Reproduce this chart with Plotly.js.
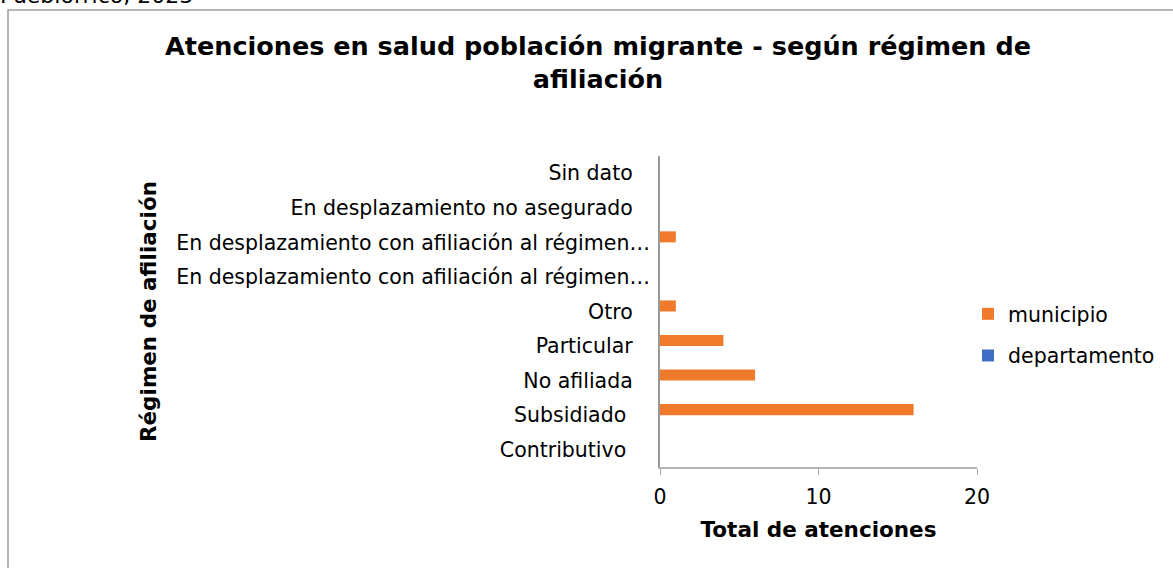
<!DOCTYPE html>
<html>
<head>
<meta charset="utf-8">
<script src="https://cdn.plot.ly/plotly-3.0.1.min.js"></script>
<style>
html,body{margin:0;padding:0;background:#fff;}
#chart{width:1173px;height:568px;}
</style>
</head>
<body>
<div id="chart"></div>
<script>
// Categories from bottom to top (full names)
const categories = [
  "Contributivo",
  "Subsidiado",
  "No afiliada",
  "Particular",
  "Otro",
  "En desplazamiento con afiliación al régimen contributivo",
  "En desplazamiento con afiliación al régimen subsidiado",
  "En desplazamiento no asegurado",
  "Sin dato"
];
// Tick labels as shown in the chart
const tickLabels = [
  "Contributivo\u00a0\u00a0\u00a0\u2009",
  "Subsidiado\u00a0\u00a0\u00a0\u2009",
  "No afiliada\u00a0\u00a0\u2009",
  "Particular\u00a0\u00a0\u2009",
  "Otro\u00a0\u00a0\u2009",
  "En desplazamiento con afiliación al régimen…",
  "En desplazamiento con afiliación al régimen…",
  "En desplazamiento no asegurado\u00a0\u00a0\u2009",
  "Sin dato\u00a0\u00a0\u2009"
];
const municipio = [0, 16, 6, 4, 1, 0, 1, 0, 0];
const departamento = [0, 0, 0, 0, 0, 0, 0, 0, 0];
const xTicks = [0, 10, 20];

const FONT = "DejaVu Sans, Verdana, sans-serif";

const traces = [
  {
    type: "bar", orientation: "h", name: "departamento",
    y: categories, x: departamento, legendgroup: "d", legendrank: 2,
    marker: {color: "#3F6EC4", line: {width: 0}}, hoverinfo: "x+y"
  },
  {
    type: "bar", orientation: "h", name: "municipio",
    y: categories, x: municipio, legendgroup: "m", legendrank: 1,
    marker: {color: "#F07A2C", line: {width: 0}}, hoverinfo: "x+y"
  }
];

// plot area: left 660, right 977, top 156, bottom 467
const L = 660, R = 977, T = 156, B = 467;
const W = R - L, H = B - T;
function px(x){ return (x - L) / W; }
function py(y){ return (B - y) / H; }

const layout = {
  width: 1173, height: 568,
  margin: {l: L, r: 1173 - R, t: T, b: 568 - B, pad: 0},
  paper_bgcolor: "#ffffff", plot_bgcolor: "#ffffff",
  font: {family: FONT, color: "#000000", size: 20.5},
  barmode: "group", bargap: 0.36, bargroupgap: 0,
  showlegend: true,
  title: {
    text: "<b>Atenciones en salud población migrante - según régimen de<br>afiliación</b>",
    font: {family: FONT, size: 25.5, color: "#000000"},
    xref: "container", x: 598 / 1173, xanchor: "center",
    yref: "container", y: 1 - 55 / 568, yanchor: "top"
  },
  xaxis: {
    range: [0, 20], tickmode: "array", tickvals: xTicks,
    ticks: "outside", ticklen: 6, tickcolor: "#a6a6a6", tickwidth: 1,
    showline: true, linecolor: "#b5b5b5", linewidth: 2,
    showgrid: false, zeroline: false,
    ticklabelstandoff: 4,
    tickfont: {size: 20.5, color: "#000"},
    title: {text: "<b>Total de atenciones</b>", font: {size: 21.5, color: "#000"}, standoff: 14},
    fixedrange: true
  },
  yaxis: {
    type: "category", categoryorder: "array", categoryarray: categories,
    tickmode: "array", tickvals: categories, ticktext: tickLabels,
    ticks: "", showline: true, linecolor: "#9a9a9a", linewidth: 2,
    showgrid: false, zeroline: false,
    ticklabelstandoff: 4,
    tickfont: {size: 20.5, color: "#000"},
    title: {text: "<b>Régimen de afiliación</b>", font: {size: 21.5, color: "#000"}, standoff: 14},
    fixedrange: true
  },
  legend: {
    x: px(968), xanchor: "left", y: py(335), yanchor: "middle",
    traceorder: "grouped", tracegroupgap: 12,
    font: {size: 20.5, color: "#000"}, bgcolor: "rgba(0,0,0,0)", itemwidth: 30
  },
  shapes: [
    {type: "rect", xref: "paper", yref: "paper",
     x0: px(8), x1: px(1190), y0: py(590), y1: py(10),
     line: {color: "#9f9f9f", width: 1.5}, fillcolor: "rgba(0,0,0,0)", layer: "below"}
  ],
  annotations: [
    {text: "Pueblorrico, 2023", xref: "paper", yref: "paper",
     x: px(-2), xanchor: "left", y: py(10), yanchor: "bottom",
     showarrow: false, font: {family: FONT, size: 22, color: "#000"}}
  ]
};

Plotly.newPlot("chart", traces, layout, {displayModeBar: false, staticPlot: true});
</script>
</body>
</html>
